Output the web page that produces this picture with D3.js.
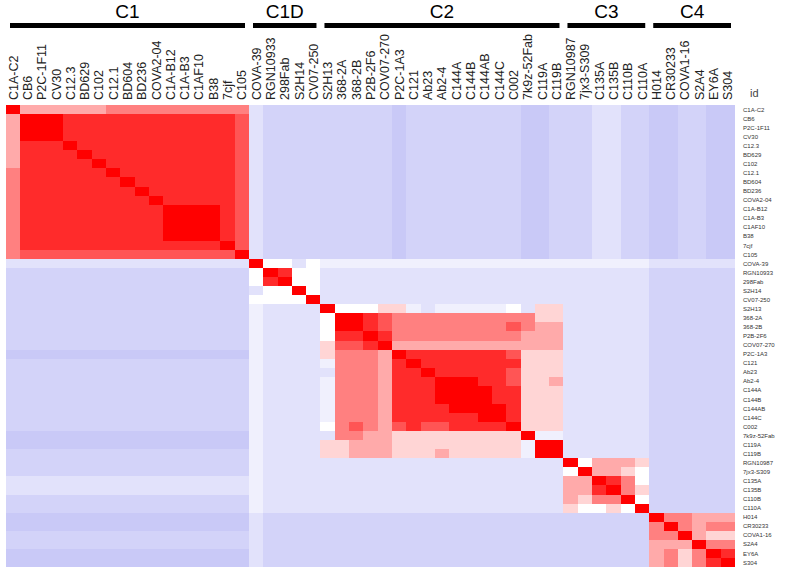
<!DOCTYPE html>
<html>
<head>
<meta charset="utf-8">
<script src="https://cdn.jsdelivr.net/npm/d3@7"></script>
<style>
  body { margin: 0; background: #fff; }
  svg { display: block; }
</style>
</head>
<body>
<div id="chart"></div>
<script>
// antibody ids, in clustered order (rows and columns are the same)
const ids = [
  "C1A-C2", "CB6", "P2C-1F11", "CV30", "C12.3", "BD629", "C102", "C12.1", "BD604", "BD236",
  "COVA2-04", "C1A-B12", "C1A-B3", "C1AF10", "B38", "7cjf", "C105",
  "COVA-39", "RGN10933", "298Fab", "S2H14", "CV07-250",
  "S2H13", "368-2A", "368-2B", "P2B-2F6", "COV07-270", "P2C-1A3", "C121", "Ab23", "Ab2-4",
  "C144A", "C144B", "C144AB", "C144C", "C002", "7k9z-52Fab", "C119A", "C119B",
  "RGN10987", "7jx3-S309", "C135A", "C135B", "C110B", "C110A",
  "H014", "CR30233", "COVA1-16", "S2A4", "EY6A", "S304"
];

const groupNames = ["C1", "C1D", "C2", "C3", "C4"];
const groupSizes = [17, 5, 17, 6, 6];

// similarity level per cell: 0 (bluest) .. 4 (white) .. 9, X = 10 (full red)
// each row: C1 | C1D | C2 | C3 | C4 columns
const rowsC1 = [
  "X6666667777777777 21111 11111011111111001 112211 001100",
  "6XXX9999999999998 21111 11111011111111001 112211 001100",
  "6XXX9999999999998 21111 11111011111111001 112211 001100",
  "6XXX9999999999998 21111 11111011111111001 112211 001100",
  "6999X999999999998 21111 11111011111111001 112211 001100",
  "69999X99999999998 21111 11111011111111001 112211 001100",
  "699999X9999999998 21111 11111011111111001 112211 001100",
  "7999999X999999998 21111 11111011111111001 112211 001100",
  "79999999X99999998 21111 11111011111111001 112211 001100",
  "799999999X9999998 21111 11111011111111001 112211 001100",
  "7999999999X999998 21111 11111011111111001 112211 001100",
  "79999999999XXXX98 21111 11111011111111001 112211 001100",
  "79999999999XXXX98 21111 11111011111111001 112211 001100",
  "79999999999XXXX98 21111 11111011111111001 112211 001100",
  "79999999999XXXX98 21111 11111011111111001 112211 001100",
  "799999999999999X8 21111 11111011111111001 112211 001100",
  "7888888888888888X 21111 11111011111111001 112211 001100"
];
const rowsC1D = [
  "22222222222222222 X4424 33333333333333333 333333 222222",
  "11111111111111111 4X944 22222222222222222 222222 111111",
  "11111111111111111 49X44 22222222222222222 222222 111111",
  "11111111111111111 244X4 22222222222222222 222222 111111",
  "11111111111111111 4444X 22222222222222222 222222 111111"
];
const rowsC2 = [
  "11111111111111111 32222 X4445532333334255 222222 111111",
  "11111111111111111 32222 4XX98777777777755 222222 111111",
  "11111111111111111 32222 4XX98777777778766 222222 111111",
  "11111111111111111 32222 499X9777777777666 222222 111111",
  "11111111111111111 32222 5889X666666666666 222222 111111",
  "00000000000000000 32222 57776X99999998555 222222 111111",
  "11111111111111111 32222 377769X9999999555 222222 111111",
  "11111111111111111 32222 2777699X999998555 222222 111111",
  "11111111111111111 32222 37776999XXX998556 222222 111111",
  "11111111111111111 32222 37776999XXXX99555 222222 111111",
  "11111111111111111 32222 37776999XXXX99555 222222 111111",
  "11111111111111111 32222 377769999XXXX9555 222222 111111",
  "11111111111111111 32222 37776999999XX9555 222222 111111",
  "11111111111111111 32222 4787689889999X555 222222 111111",
  "00000000000000000 32222 27766555555555X33 222222 111111",
  "00000000000000000 32222 556665555555553XX 222222 111111",
  "11111111111111111 32222 556665556555553XX 222222 111111"
];
const rowsC3 = [
  "11111111111111111 32222 22222222222222222 X46665 111111",
  "11111111111111111 32222 22222222222222222 4X6654 111111",
  "22222222222222222 32222 22222222222222222 66X974 111111",
  "22222222222222222 32222 22222222222222222 669X75 111111",
  "11111111111111111 32222 22222222222222222 6577X4 111111",
  "11111111111111111 32222 22222222222222222 54454X 111111"
];
const rowsC4 = [
  "00000000000000000 21111 11111111111111111 111111 X77666",
  "00000000000000000 21111 11111111111111111 111111 7X7677",
  "11111111111111111 21111 11111111111111111 111111 77X655",
  "11111111111111111 21111 11111111111111111 111111 666X77",
  "00000000000000000 21111 11111111111111111 111111 6757X9",
  "00000000000000000 21111 11111111111111111 111111 67579X"
];

const matrix = [...rowsC1, ...rowsC1D, ...rowsC2, ...rowsC3, ...rowsC4]
  .map(r => r.replace(/ /g, "").split("").map(ch => ch === "X" ? 10 : +ch));

const W = 787, H = 570;
const font = "'Liberation Sans', Arial, sans-serif";

const svg = d3.select("#chart").append("svg")
  .attr("width", W)
  .attr("height", H)
  .style("font-family", font);

const x = d3.scaleBand().domain(ids).range([6, 735]);
const y = d3.scaleBand().domain(ids).range([105, 567]);

// blue -> white -> red
const color = d3.scaleLinear()
  .domain([0, 1, 4, 10])
  .range(["#c9c9f7", "#d3d3f9", "#ffffff", "#ff0000"]);

const cells = [];
matrix.forEach((row, i) => {
  row.forEach((v, j) => cells.push({ r: ids[i], c: ids[j], v }));
});

svg.append("g")
  .selectAll("rect")
  .data(cells)
  .join("rect")
  .attr("x", d => x(d.c))
  .attr("y", d => y(d.r))
  .attr("width", x.bandwidth() + 0.4)
  .attr("height", y.bandwidth() + 0.4)
  .attr("fill", d => color(d.v))
  .attr("shape-rendering", "crispEdges");

// column labels on top, rotated
svg.append("g")
  .selectAll("text")
  .data(ids)
  .join("text")
  .attr("transform", d => `translate(${x(d) + x.bandwidth() / 2},100) rotate(-90)`)
  .attr("dy", "0.36em")
  .attr("font-size", 12.5)
  .attr("fill", "#222")
  .text(d => d);

// row labels on the right
svg.append("g")
  .selectAll("text")
  .data(ids)
  .join("text")
  .attr("x", 743)
  .attr("y", d => y(d) + y.bandwidth() / 2)
  .attr("dy", "0.35em")
  .attr("font-size", 6)
  .attr("fill", "#333")
  .text(d => d);

svg.append("text")
  .attr("x", 750)
  .attr("y", 97)
  .attr("font-size", 11)
  .attr("fill", "#444")
  .text("id");

// group headers with bars
let start = 0;
const groups = groupNames.map((name, k) => {
  const g = { name, first: ids[start], last: ids[start + groupSizes[k] - 1] };
  start += groupSizes[k];
  return g;
});

const header = svg.append("g");
groups.forEach(g => {
  const x0 = x(g.first), x1 = x(g.last) + x.bandwidth();
  header.append("rect")
    .attr("x", x0 + 4)
    .attr("y", 23)
    .attr("width", x1 - x0 - 8)
    .attr("height", 5)
    .attr("fill", "#000");
  header.append("text")
    .attr("x", (x0 + x1) / 2)
    .attr("y", 18)
    .attr("text-anchor", "middle")
    .attr("font-size", 19)
    .attr("fill", "#000")
    .text(g.name);
});
</script>
</body>
</html>
